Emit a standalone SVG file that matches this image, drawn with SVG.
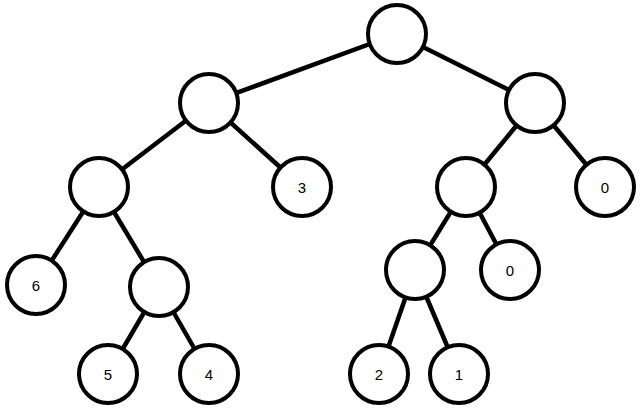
<svg xmlns="http://www.w3.org/2000/svg" width="640" height="410" viewBox="0 0 640 410">
<style>
.n circle{fill:#fff;stroke:#000;stroke-width:4}
.n text{font-family:"Liberation Sans",Arial,sans-serif;font-size:15px;text-anchor:middle;dominant-baseline:central}
#edges line{stroke:#000;stroke-width:4.5}
</style>
<rect width="640" height="410" fill="#fff"/>
<g id="edges">
<line x1="397" y1="34" x2="209" y2="103"/>
<line x1="397" y1="34" x2="535" y2="103"/>
<line x1="209" y1="103" x2="99" y2="187"/>
<line x1="209" y1="103" x2="302" y2="187"/>
<line x1="535" y1="103" x2="466" y2="187"/>
<line x1="535" y1="103" x2="605" y2="187"/>
<line x1="99" y1="187" x2="36" y2="285"/>
<line x1="99" y1="187" x2="159" y2="287"/>
<line x1="159" y1="287" x2="108" y2="374"/>
<line x1="159" y1="287" x2="209" y2="374"/>
<line x1="466" y1="187" x2="415" y2="270"/>
<line x1="466" y1="187" x2="510" y2="270"/>
<line x1="415" y1="270" x2="379" y2="374"/>
<line x1="415" y1="270" x2="459" y2="374"/>
</g>
<g id="root" class="n"><circle cx="397" cy="34" r="29"/></g>
<g id="nL" class="n"><circle cx="209" cy="103" r="29"/></g>
<g id="nR" class="n"><circle cx="535" cy="103" r="29"/></g>
<g id="nLL" class="n"><circle cx="99" cy="187" r="29"/></g>
<g id="n3" class="n"><circle cx="302" cy="187" r="29"/><text x="302" y="187">3</text></g>
<g id="nRL" class="n"><circle cx="466" cy="187" r="29"/></g>
<g id="nR0" class="n"><circle cx="605" cy="187" r="29"/><text x="605" y="187">0</text></g>
<g id="n6" class="n"><circle cx="36" cy="285" r="29"/><text x="36" y="285">6</text></g>
<g id="nLLR" class="n"><circle cx="159" cy="287" r="29"/></g>
<g id="nRLL" class="n"><circle cx="415" cy="270" r="29"/></g>
<g id="nRL0" class="n"><circle cx="510" cy="270" r="29"/><text x="510" y="270">0</text></g>
<g id="n5" class="n"><circle cx="108" cy="374" r="29"/><text x="108" y="374">5</text></g>
<g id="n4" class="n"><circle cx="209" cy="374" r="29"/><text x="209" y="374">4</text></g>
<g id="n2" class="n"><circle cx="379" cy="374" r="29"/><text x="379" y="374">2</text></g>
<g id="n1" class="n"><circle cx="459" cy="374" r="29"/><text x="459" y="374">1</text></g>
</svg>
